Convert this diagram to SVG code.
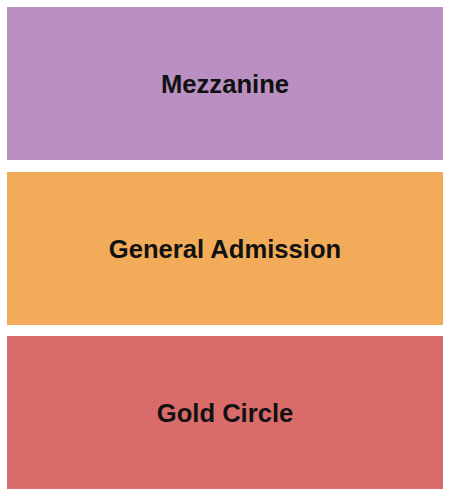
<svg xmlns="http://www.w3.org/2000/svg" width="450" height="497" viewBox="0 0 450 497">
<style>
.lbl{font-family:"Liberation Sans",Arial,sans-serif;font-weight:bold;font-size:25.6px;fill:#111;text-anchor:middle}
</style>
<rect width="450" height="497" fill="#fff"/>
<g id="mezzanine">
<rect x="7" y="7" width="436" height="153" fill="#BA8FC2"/>
<text class="lbl" x="225" y="92.5">Mezzanine</text>
</g>
<g id="general-admission">
<rect x="7" y="172" width="436" height="153" fill="#F2AB58"/>
<text class="lbl" x="225" y="257.5">General Admission</text>
</g>
<g id="gold-circle">
<rect x="7" y="336" width="436" height="153" fill="#D96B6B"/>
<text class="lbl" x="225" y="421.5">Gold Circle</text>
</g>
<g id="connectors"/>
</svg>
